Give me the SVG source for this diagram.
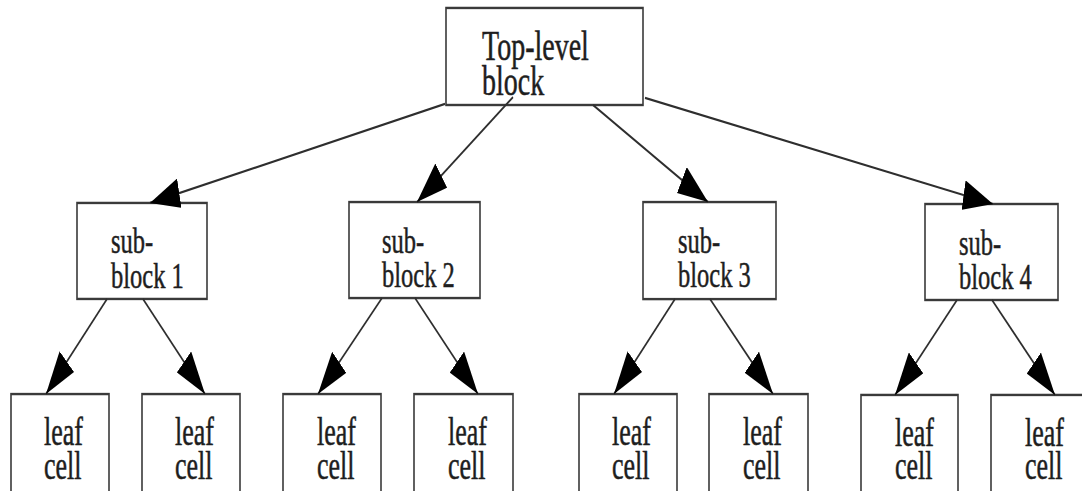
<svg xmlns="http://www.w3.org/2000/svg" width="1082" height="491" viewBox="0 0 1082 491">
  <style>
    .box { fill: #ffffff; stroke: #3a3a3a; stroke-width: 1.6; }
    .edge { fill: none; stroke: #2e2e2e; stroke-width: 1.5; marker-end: url(#head); }
    .lbl { font-family: "Liberation Serif", "Times New Roman", serif; fill: #1e1e1e; stroke: #1e1e1e; stroke-width: 0.35; }
    .top { font-size: 28px; }
    .sub { font-size: 24.5px; }
    .leaf { font-size: 26px; }
  </style>
  <defs>
    <marker id="head" viewBox="0 0 30 20" refX="30" refY="10" markerWidth="30" markerHeight="20" markerUnits="userSpaceOnUse" orient="auto">
      <path d="M0,0 L30,10 L0,20 Z" fill="#000"/>
    </marker>
  </defs>
  <rect width="1082" height="491" fill="#ffffff"/>
  <!-- drawing is laid out in a compact space and stretched vertically -->
  <g transform="scale(1,1.5)">
    <g id="top-block">
      <rect class="box" x="446" y="5.3" width="197" height="64.7"/>
      <text class="lbl top"><tspan x="482" y="40">Top-level</tspan><tspan x="482" y="63.3">block</tspan></text>
    </g>

    <g id="sub-block-1">
      <rect class="box" x="77" y="135.3" width="130" height="64"/>
      <text class="lbl sub"><tspan x="111" y="168.7">sub-</tspan><tspan x="111" y="192">block 1</tspan></text>
    </g>
    <g id="sub-block-2">
      <rect class="box" x="349" y="134.7" width="131" height="64"/>
      <text class="lbl sub"><tspan x="382" y="168.7">sub-</tspan><tspan x="382" y="191.5">block 2</tspan></text>
    </g>
    <g id="sub-block-3">
      <rect class="box" x="643" y="134.7" width="133" height="64.7"/>
      <text class="lbl sub"><tspan x="678" y="168.7">sub-</tspan><tspan x="678" y="191.5">block 3</tspan></text>
    </g>
    <g id="sub-block-4">
      <rect class="box" x="925" y="136" width="133" height="64"/>
      <text class="lbl sub"><tspan x="959" y="170">sub-</tspan><tspan x="959" y="192.7">block 4</tspan></text>
    </g>

    <g id="leaf-1">
      <rect class="box" x="11" y="262.7" width="98" height="80"/>
      <text class="lbl leaf"><tspan x="44" y="296.7">leaf</tspan><tspan x="44" y="319.3">cell</tspan></text>
    </g>
    <g id="leaf-2">
      <rect class="box" x="142" y="262.7" width="98" height="80"/>
      <text class="lbl leaf"><tspan x="175" y="296.7">leaf</tspan><tspan x="175" y="319.3">cell</tspan></text>
    </g>
    <g id="leaf-3">
      <rect class="box" x="283" y="262.7" width="98" height="80"/>
      <text class="lbl leaf"><tspan x="317" y="296.7">leaf</tspan><tspan x="317" y="319.3">cell</tspan></text>
    </g>
    <g id="leaf-4">
      <rect class="box" x="414" y="262.7" width="99" height="80"/>
      <text class="lbl leaf"><tspan x="448" y="296.7">leaf</tspan><tspan x="448" y="319.3">cell</tspan></text>
    </g>
    <g id="leaf-5">
      <rect class="box" x="579" y="262.7" width="98" height="80"/>
      <text class="lbl leaf"><tspan x="612" y="296.7">leaf</tspan><tspan x="612" y="319.3">cell</tspan></text>
    </g>
    <g id="leaf-6">
      <rect class="box" x="709" y="262.7" width="99" height="80"/>
      <text class="lbl leaf"><tspan x="743" y="296.7">leaf</tspan><tspan x="743" y="319.3">cell</tspan></text>
    </g>
    <g id="leaf-7">
      <rect class="box" x="861" y="263.3" width="97" height="80"/>
      <text class="lbl leaf"><tspan x="895" y="297.3">leaf</tspan><tspan x="895" y="319.3">cell</tspan></text>
    </g>
    <g id="leaf-8">
      <rect class="box" x="991" y="263.3" width="100" height="80"/>
      <text class="lbl leaf"><tspan x="1025" y="297.3">leaf</tspan><tspan x="1025" y="319.3">cell</tspan></text>
    </g>

    <g id="connectors">
      <line class="edge" x1="445" y1="69.3" x2="150" y2="135.3"/>
      <line class="edge" x1="513" y1="64.7" x2="417" y2="134.7"/>
      <line class="edge" x1="593" y1="70" x2="708" y2="134.7"/>
      <line class="edge" x1="645" y1="65.3" x2="993" y2="136"/>

      <line class="edge" x1="107" y1="199.3" x2="46" y2="262.7"/>
      <line class="edge" x1="143" y1="199.3" x2="205" y2="262.7"/>
      <line class="edge" x1="382" y1="198.7" x2="318" y2="262.7"/>
      <line class="edge" x1="415" y1="198.7" x2="478" y2="262.7"/>
      <line class="edge" x1="675" y1="199.3" x2="614" y2="262.7"/>
      <line class="edge" x1="710" y1="199.3" x2="773" y2="262.7"/>
      <line class="edge" x1="957" y1="200" x2="895" y2="263.3"/>
      <line class="edge" x1="992" y1="200" x2="1055" y2="263.3"/>
    </g>
  </g>
</svg>
